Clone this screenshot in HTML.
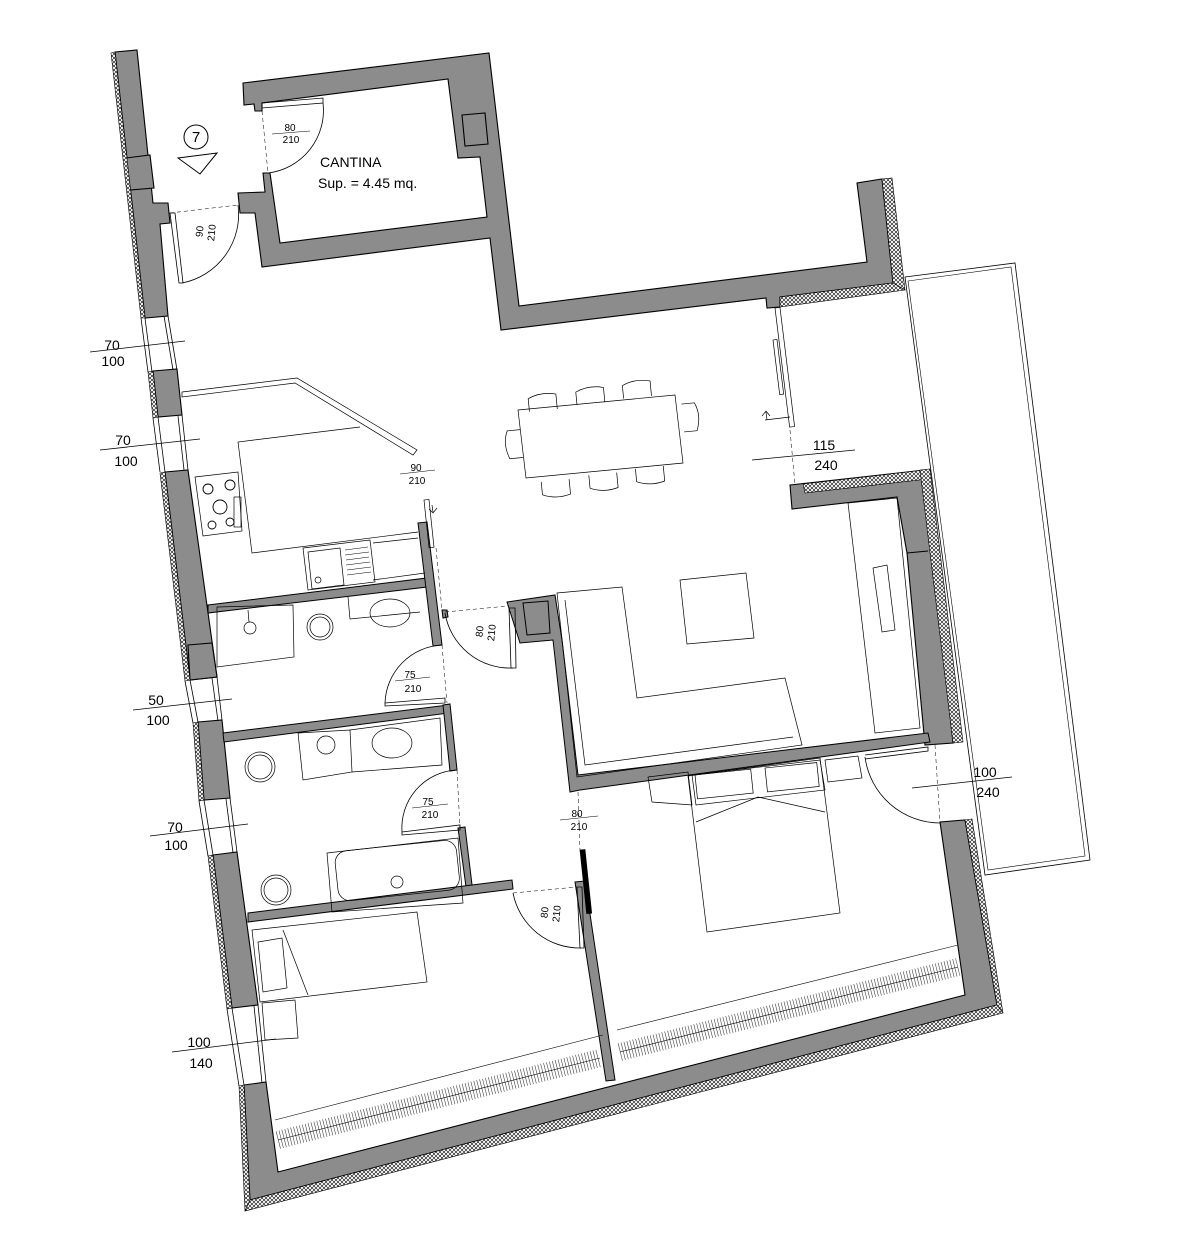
<!DOCTYPE html>
<html><head><meta charset="utf-8"><style>body{margin:0;background:#fff}svg{display:block}text{font-family:"Liberation Sans",sans-serif;fill:#000}</style></head><body>
<svg width="1181" height="1260" viewBox="0 0 1181 1260" xmlns="http://www.w3.org/2000/svg">
<defs><pattern id="h" width="4" height="4" patternUnits="userSpaceOnUse"><rect width="4" height="4" fill="#fff"/><path d="M0 4L4 0M0 0L4 4" stroke="#000" stroke-width="0.6"/></pattern></defs>
<!-- terrace -->
<polygon points="905,277 1015,263 1090,860 985,875" fill="none" stroke="#000" stroke-width="0.8"/>
<polygon points="908,281 1011,267 1085,856 988,870" fill="none" stroke="#000" stroke-width="0.6"/>
<g fill="#8c8c8c" stroke="#000" stroke-width="1.1">
<polygon points="115,52 137,50 153,203 168,203 170,223 160,224 168,316 145,318"/>
<polygon points="126,158 150,155 154,188 130,190"/>
<polygon points="153,371 177,369 182,415 158,417"/>
<polygon points="165,472 188,470 217,677 190,680"/>
<polygon points="188,645 212,643 217,677 190,680"/>
<polygon points="198,722 222,720 230,798 204,800"/>
<polygon points="213,855 237,852 258,1005 232,1008"/>
<polygon points="244,1085 266,1082 278,1172 965,995 940,822 965,820 997,1005 250,1200"/>
<polygon points="243,83 489,53 519,306 867,262 857,183 882,179 893,283 780,297 780,307 767,308 766,298 501,330 490,238 262,267 255,213 240,213 238,193 265,192 263,173 270,173 280,243 487,217 480,157 458,158 448,79 262,103 262,111 255,111 254,104 244,105"/>
<polygon points="462,115 485,113 488,144 465,146"/>
<polygon points="790,485 925,470 953,743 925,745 907,553 897,497 792,509"/>
<line x1="907" y1="553" x2="928" y2="551" stroke="#000"/>
</g>
<g fill="url(#h)" stroke="#000" stroke-width="0.6">
<polygon points="111,53 115,52 145,318 141,318"/>
<polygon points="148,372 153,371 158,417 153,418"/>
<polygon points="160,473 165,472 190,680 185,681"/>
<polygon points="193,723 198,722 204,800 199,801"/>
<polygon points="208,856 213,855 232,1008 227,1009"/>
<polygon points="239,1086 244,1085 250,1200 245,1211"/>
<polygon points="250,1200 997,1005 1003,1013 245,1211"/>
<polygon points="965,820 972,819 1003,1013 997,1005"/>
<polygon points="882,179 892,178 905,290 893,283"/>
<polygon points="780,297 893,283 905,290 780,307"/>
<polygon points="803,484 925,470 928,479 805,493"/>
<polygon points="920,470 930,469 963,742 953,743"/>
</g>
<g stroke="#000" stroke-width="0.8">
<path d="M141,318 L148,372 M145,318 L152,372 M164,316 L173,370 M168,316 L177,370"/>
<path d="M153,418 L160,472 M158,417 L165,472 M178,416 L184,470 M182,415 L188,470"/>
<path d="M185,681 L193,723 M190,680 L198,722 M212,678 L218,721 M217,677 L222,720"/>
<path d="M199,801 L208,856 M204,800 L213,855 M226,799 L233,853 M230,798 L237,852"/>
<path d="M227,1009 L239,1086 M232,1008 L244,1085 M254,1006 L262,1083 M258,1005 L266,1082"/>
</g>
<g fill="#8c8c8c" stroke="#000" stroke-width="1">
<polygon points="208,605 427,578 427,587 208,613"/>
<polygon points="418,523 427,522 442,645 433,646"/>
<polygon points="442,610 447,610 448,617 443,618"/>
<polygon points="223,733 448,705 449,713 224,742"/>
<polygon points="443,705 450,704 457,770 450,771"/>
<polygon points="458,828 465,827 473,893 467,894"/>
<polygon points="248,913 512,880 513,889 248,922"/>
<polygon points="575,882 585,881 615,1080 606,1081"/>
<polygon points="507,602 555,595 562,640 578,775 928,733 930,742 580,790 570,792 553,640 520,643"/>
<polygon points="523,603 548,601 550,633 527,635"/>
</g>
<!-- radiators -->
<g stroke="#000" fill="none">
<path d="M275,1120 L603,1035 M617,1030 L958,945" stroke-width="0.6"/>
<path d="M278,1140 L600,1058 M620,1052 L958,967" stroke-width="0.6"/>
<path d="M278,1140 L600,1058 M620,1052 L958,967" stroke-width="18" stroke-dasharray="0.6 2.4" stroke-opacity="0.75"/>
</g>
<g fill="none" stroke="#000" stroke-width="0.7">
<polygon points="182,392 297,378 417,450 413,455 295,383 182,397"/>
<polyline points="360,427 238,442 252,553 418,532"/>
<polygon points="195,477 238,472 242,531 203,536"/>
<g stroke-width="0.9"><circle cx="208" cy="489" r="5"/><circle cx="230" cy="485" r="5"/><circle cx="220" cy="507" r="7"/><circle cx="212" cy="525" r="4"/><circle cx="230" cy="522" r="4"/></g>
<rect x="234" y="497" width="7" height="30"/>
<polygon points="303,548 370,540 375,582 308,590"/>
<polygon points="308,552 340,548 344,585 312,589"/>
<g stroke-width="0.5"><path d="M345,550 L368,547 M345,555 L369,552 M346,560 L369,557 M346,565 L370,562 M347,570 L371,567 M347,575 L371,572"/></g>
<circle cx="318" cy="580" r="3"/>
<path d="M373,580 L425,573 M373,543 L418,538"/>
<polygon points="217,607 293,605 294,657 217,667"/>
<circle cx="250" cy="628" r="6"/><line x1="248" y1="610" x2="249" y2="622"/>
<circle cx="320" cy="627" r="13"/><circle cx="320" cy="627" r="10"/>
<polyline points="348,597 350,619 420,612"/>
<ellipse cx="390" cy="613" rx="20" ry="14"/>
<circle cx="260" cy="767" r="15"/><circle cx="260" cy="767" r="12"/>
<polygon points="298,733 350,730 352,772 303,780"/>
<circle cx="326" cy="745" r="9"/>
<polyline points="350,730 440,718 442,765 352,772"/>
<ellipse cx="392" cy="743" rx="20" ry="15"/>
<polygon points="327,853 458,838 463,903 332,912"/>
<rect x="334" y="852" width="122" height="50" rx="12" transform="rotate(-6 334 852)"/>
<circle cx="397" cy="882" r="6"/>
<circle cx="276" cy="890" r="15"/><circle cx="276" cy="890" r="12"/>
<polygon points="252,930 417,912 427,982 260,1002"/>
<polygon points="258,942 282,938 287,988 263,992"/>
<line x1="283" y1="930" x2="308" y2="995"/>
<polygon points="262,1003 295,1000 298,1038 265,1040"/>
<polygon points="518,410 675,395 683,463 526,478"/>
<g transform="rotate(-5.5 600 435)">
<path d="M532,405 L532,392 Q545,386 560,390 L560,405"/><path d="M580,403 L580,390 Q593,384 608,388 L608,403"/><path d="M627,401 L627,388 Q640,382 655,386 L655,401"/>
<path d="M537,476 L537,489 Q550,495 565,491 L565,476"/><path d="M585,474 L585,487 Q598,493 613,489 L613,474"/><path d="M632,472 L632,485 Q645,491 660,487 L660,472"/>
<path d="M521,422 L508,422 Q502,435 508,450 L521,450"/><path d="M684,412 L697,412 Q703,425 697,440 L684,440"/>
</g>
<polygon points="557,593 622,587 637,698 785,678 802,745 577,777"/>
<polyline points="565,600 585,765 793,737"/>
<polygon points="680,580 746,573 754,638 687,644"/>
<polygon points="848,503 897,498 920,728 875,733"/>
<polygon points="873,568 887,565 895,630 882,632"/>
<polygon points="648,777 688,772 692,805 652,802"/>
<polygon points="825,760 858,756 862,778 828,782"/>
<polygon points="688,776 820,758 840,913 707,932"/>
<polygon points="692,775 820,760 825,790 696,805"/>
<rect x="695" y="775" width="56" height="24" transform="rotate(-6 695 775)"/>
<rect x="765" y="768" width="52" height="24" transform="rotate(-6 765 768)"/>
<path d="M696,822 L758,797 L825,812"/>
<rect x="775" y="308" width="5" height="120" transform="rotate(-7 775 308)"/>
<rect x="773" y="340" width="4" height="55" transform="rotate(-7 773 340)"/>
<path d="M765,420 L790,417 M767,420 L766,412 M762,416 L766,411 L770,416"/>
<rect x="424" y="500" width="5" height="48" transform="rotate(-6 424 500)"/>
<path d="M432,505 L433,512 M429,509 L433,513 L437,508"/>
<rect x="580" y="850" width="5" height="64" transform="rotate(-6 580 850)" fill="#000"/>
<circle cx="196" cy="137" r="12" stroke-width="1"/>
<polygon points="178,158 217,153 200,174" stroke-width="1"/>
</g>
<g fill="none" stroke="#000" stroke-width="0.8">
<path d="M262,103 L323,98 L323,103 L262,108 Z"/><path d="M323,103 A63,63 0 0 1 268,173"/>
<path d="M170,213 L175,213 L183,283 L179,283 Z"/><path d="M238,205 A70,70 0 0 1 182,283"/>
<path d="M509,608 L515,608 L516,668 L511,668 Z"/><path d="M445,613 A66,66 0 0 0 513,668"/>
<path d="M385,703 L445,698 L445,703 L385,706 Z"/><path d="M385,703 A60,60 0 0 1 442,645"/>
<path d="M402,832 L460,825 L460,830 L402,835 Z"/><path d="M402,832 A58,58 0 0 1 456,770"/>
<path d="M577,887 L582,887 L584,948 L580,948 Z"/><path d="M513,893 A68,68 0 0 0 581,948"/>
<path d="M865,755 L928,747 L928,751 L865,759"/><path d="M865,757 A76,76 0 0 0 940,823"/>
</g>
<g fill="none" stroke="#000" stroke-width="0.5" stroke-dasharray="4 3">
<path d="M262,111 L268,173 M170,213 L238,205 M445,612 L508,606 M442,645 L447,703 M457,770 L460,828 M513,893 L577,887 M578,792 L580,850 M790,430 L795,485 M935,745 L940,822 M436,548 L442,610"/>
</g>
<g font-size="14" text-anchor="middle">
<text x="112" y="350">70</text><line x1="90" y1="352" x2="185" y2="341" stroke="#000" stroke-width="0.8"/><text x="113" y="366">100</text>
<text x="123" y="445">70</text><line x1="100" y1="450" x2="200" y2="439" stroke="#000" stroke-width="0.8"/><text x="126" y="466">100</text>
<text x="156" y="705">50</text><line x1="133" y1="710" x2="232" y2="699" stroke="#000" stroke-width="0.8"/><text x="158" y="725">100</text>
<text x="175" y="832">70</text><line x1="150" y1="836" x2="248" y2="824" stroke="#000" stroke-width="0.8"/><text x="176" y="850">100</text>
<text x="199" y="1047">100</text><line x1="172" y1="1052" x2="276" y2="1039" stroke="#000" stroke-width="0.8"/><text x="201" y="1068">140</text>
<text x="824" y="450">115</text><line x1="752" y1="460" x2="855" y2="450" stroke="#000" stroke-width="0.8"/><text x="826" y="470">240</text>
<text x="985" y="777">100</text><line x1="912" y1="788" x2="1012" y2="777" stroke="#000" stroke-width="0.8"/><text x="988" y="797">240</text>
<text x="320" y="167" text-anchor="start">CANTINA</text>
<text x="318" y="188" text-anchor="start">Sup. = 4.45 mq.</text>
<text x="196" y="142" font-size="15">7</text>
</g>
<g font-size="10" text-anchor="middle">
<text x="290" y="131">80</text><line x1="272" y1="134" x2="310" y2="131" stroke="#000" stroke-width="0.6"/><text x="291" y="143">210</text>
<text x="416" y="471">90</text><line x1="400" y1="474" x2="435" y2="470" stroke="#000" stroke-width="0.6"/><text x="417" y="484">210</text>
<text x="410" y="678">75</text><line x1="395" y1="681" x2="430" y2="677" stroke="#000" stroke-width="0.6"/><text x="413" y="692">210</text>
<text x="428" y="805">75</text><line x1="412" y1="808" x2="448" y2="804" stroke="#000" stroke-width="0.6"/><text x="430" y="818">210</text>
<text x="577" y="817">80</text><line x1="560" y1="820" x2="598" y2="816" stroke="#000" stroke-width="0.6"/><text x="579" y="830">210</text>
<g transform="rotate(-84 205 232)"><text x="205" y="230">90</text><text x="205" y="242">210</text></g>
<g transform="rotate(-84 485 632)"><text x="485" y="630">80</text><text x="485" y="642">210</text></g>
<g transform="rotate(-84 550 913)"><text x="550" y="911">80</text><text x="550" y="923">210</text></g>
</g>
</svg>
</body></html>
